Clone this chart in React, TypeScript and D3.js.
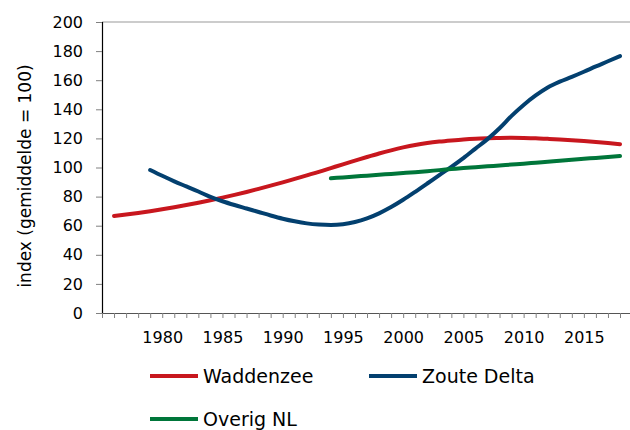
import { useEffect, useRef } from "react";
import * as d3 from "d3";

// Values (index, gemiddelde = 100)
const waddenYears = d3.range(1976, 2019);
const waddenzee = [
  66.7, 67.7, 68.8, 70.0, 71.3, 72.7, 74.2, 75.8, 77.5, 79.3, 81.2, 83.2, 85.3,
  87.5, 89.8, 92.2, 94.6, 97.0, 99.6, 102.2, 104.7, 107.2, 109.6, 111.8, 113.8,
  115.5, 116.8, 117.8, 118.6, 119.3, 119.8, 120.1, 120.3, 120.4, 120.3, 120.1,
  119.7, 119.3, 118.8, 118.2, 117.5, 116.8, 116.0,
];

const zouteYears = d3.range(1979, 2019);
const zouteDelta = [
  98.3, 94.3, 90.5, 87, 83.5, 79.8, 76.8, 74.2, 71.8, 69.4, 67, 64.8, 63, 61.6,
  60.8, 60.5, 61, 62.5, 65, 68.5, 72.8, 77.8, 83.3, 89, 94.8, 100.5, 106.5, 113,
  119.5, 127, 135.5, 143, 149.5, 155, 159, 162.3, 165.8, 169.5, 173, 176.6,
];

const overigYears = d3.range(1994, 2019);
const overigNL = [
  92.6, 93.2, 93.8, 94.4, 95.0, 95.6, 96.2, 96.8, 97.5, 98.2, 98.9, 99.6, 100.2,
  100.8, 101.4, 102.0, 102.6, 103.3, 104.0, 104.7, 105.4, 106.0, 106.6, 107.2,
  107.9,
];

const yTicks = [0, 20, 40, 60, 80, 100, 120, 140, 160, 180, 200];
const xLabelYears = [1980, 1985, 1990, 1995, 2000, 2005, 2010, 2015];
const minorYears = d3.range(1975, 2020);

const series = [
  { name: "Waddenzee", years: waddenYears, values: waddenzee, color: "#c8171e" },
  { name: "Zoute Delta", years: zouteYears, values: zouteDelta, color: "#03406f" },
  { name: "Overig NL", years: overigYears, values: overigNL, color: "#00763a" },
];

const FONT = "'DejaVu Sans', sans-serif";

export default function App() {
  const ref = useRef<SVGSVGElement>(null);

  useEffect(() => {
    const svg = d3.select(ref.current);
    svg.selectAll("*").remove();

    const left = 102;
    const top = 22;
    const bottom = 313;

    const x = d3.scaleLinear().domain([1975, 2018]).range([left, 620]);
    const y = d3.scaleLinear().domain([0, 200]).range([bottom, top]);

    // top border line at 200
    svg.append("line")
      .attr("x1", left).attr("x2", 632)
      .attr("y1", y(200)).attr("y2", y(200))
      .attr("stroke", "#9a9a9a").attr("stroke-width", 1.2);

    // y axis
    const yAxis = svg.append("g")
      .attr("transform", `translate(${left},0)`)
      .call(d3.axisLeft(y).tickValues(yTicks).tickSize(6).tickPadding(13).tickFormat(d3.format("d")));
    yAxis.select(".domain").attr("stroke", "#000").attr("stroke-width", 1.2);
    yAxis.selectAll(".tick line").attr("stroke", "#808080");
    yAxis.selectAll(".tick text")
      .attr("font-family", FONT).attr("font-size", 16).attr("fill", "#000");

    // x axis: minor ticks every year, labels every 5 years
    const xAxis = svg.append("g")
      .attr("transform", `translate(0,${bottom})`)
      .call(d3.axisBottom(x).tickValues(minorYears).tickSize(5).tickSizeOuter(0)
        .tickFormat((d) => (xLabelYears.includes(+d) ? String(d) : "")));
    xAxis.select(".domain").attr("d", `M${left},0.5H632`).attr("stroke", "#555").attr("stroke-width", 1.2);
    xAxis.selectAll(".tick line").attr("stroke", "#808080");
    xAxis.selectAll(".tick text")
      .attr("font-family", FONT).attr("font-size", 16).attr("fill", "#000")
      .attr("y", 19);

    // y title
    svg.append("text")
      .attr("transform", "translate(31,176) rotate(-90)")
      .attr("text-anchor", "middle")
      .attr("font-family", FONT).attr("font-size", 17)
      .text("index (gemiddelde = 100)");

    // lines
    const line = d3.line<[number, number]>()
      .x((d) => x(d[0]))
      .y((d) => y(d[1]))
      .curve(d3.curveMonotoneX);

    series.forEach((s) => {
      const pts = s.years.map((yr, i) => [yr, s.values[i]] as [number, number]);
      svg.append("path")
        .attr("d", line(pts))
        .attr("fill", "none")
        .attr("stroke", s.color)
        .attr("stroke-width", 4)
        .attr("stroke-linecap", "round")
        .attr("stroke-linejoin", "round");
    });

    // legend
    const legendPos = [
      { lx: 150, ly: 376 },
      { lx: 369, ly: 376 },
      { lx: 150, ly: 419 },
    ];
    series.forEach((s, i) => {
      const p = legendPos[i];
      const g = svg.append("g");
      g.append("line")
        .attr("x1", p.lx).attr("x2", p.lx + 48)
        .attr("y1", p.ly).attr("y2", p.ly)
        .attr("stroke", s.color).attr("stroke-width", 4);
      g.append("text")
        .attr("x", p.lx + 53).attr("y", p.ly + 7)
        .attr("font-family", FONT).attr("font-size", 19)
        .text(s.name);
    });
  }, []);

  return (
    <svg
      ref={ref}
      width={630}
      height={430}
      style={{ position: "absolute", left: 0, top: 0, background: "#fff" }}
    />
  );
}
